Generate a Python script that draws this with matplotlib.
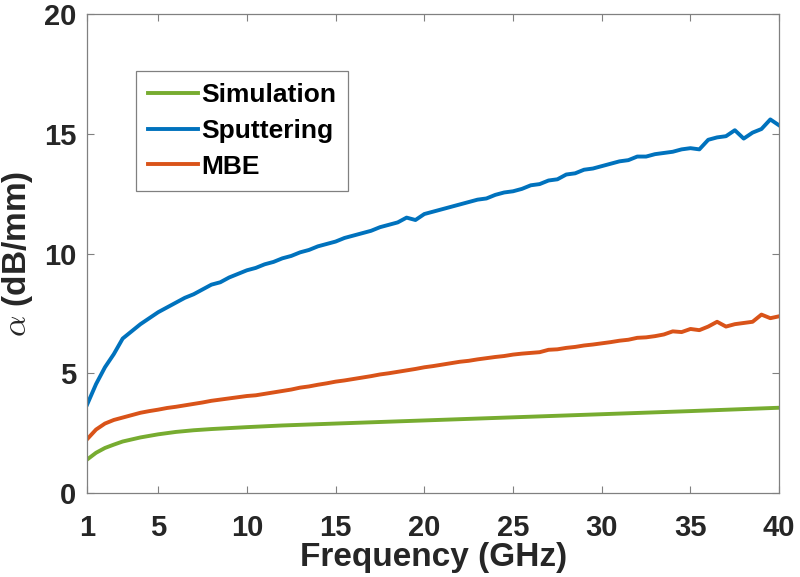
import numpy as np
import matplotlib.pyplot as plt

plt.rcParams['font.family'] = ['Liberation Sans', 'DejaVu Sans']
plt.rcParams['mathtext.fontset'] = 'cm'

# measured attenuation, 0.5 GHz steps
freq = np.arange(1.0, 40.01, 0.5)
sputtering = [3.70, 4.55, 5.25, 5.80, 6.45, 6.75, 7.05, 7.30, 7.55, 7.75,
              7.95, 8.15, 8.30, 8.50, 8.70, 8.80, 9.00, 9.15, 9.30, 9.40,
              9.55, 9.65, 9.80, 9.90, 10.05, 10.15, 10.30, 10.40, 10.50, 10.65,
              10.75, 10.85, 10.95, 11.10, 11.20, 11.30, 11.50, 11.40, 11.65, 11.75,
              11.85, 11.95, 12.05, 12.15, 12.25, 12.30, 12.45, 12.55, 12.60, 12.70,
              12.85, 12.90, 13.05, 13.10, 13.30, 13.35, 13.50, 13.55, 13.65, 13.75,
              13.85, 13.90, 14.05, 14.05, 14.15, 14.20, 14.25, 14.35, 14.40, 14.35,
              14.75, 14.85, 14.90, 15.15, 14.80, 15.05, 15.20, 15.60, 15.35]
mbe = [2.25, 2.65, 2.90, 3.05, 3.15, 3.25, 3.35, 3.42, 3.48, 3.55,
       3.60, 3.66, 3.72, 3.78, 3.85, 3.90, 3.95, 4.00, 4.05, 4.08,
       4.14, 4.20, 4.26, 4.32, 4.40, 4.45, 4.52, 4.58, 4.65, 4.70,
       4.76, 4.82, 4.88, 4.95, 5.00, 5.06, 5.12, 5.18, 5.25, 5.30,
       5.36, 5.42, 5.48, 5.52, 5.58, 5.63, 5.68, 5.72, 5.78, 5.82,
       5.85, 5.88, 5.98, 6.00, 6.06, 6.10, 6.16, 6.20, 6.25, 6.30,
       6.36, 6.40, 6.48, 6.50, 6.55, 6.62, 6.75, 6.72, 6.85, 6.80,
       6.95, 7.15, 6.95, 7.05, 7.10, 7.15, 7.45, 7.30, 7.38]

# simulated curve (smooth)
sim_freq = [1, 1.5, 2, 2.5, 3, 4, 5, 6, 7, 8, 10, 12, 15, 20, 25, 30, 35, 40]
simulation = [1.40, 1.68, 1.88, 2.02, 2.15, 2.32, 2.45, 2.55, 2.62, 2.67,
              2.75, 2.82, 2.90, 3.03, 3.16, 3.29, 3.42, 3.56]

xticks = [1, 5, 10, 15, 20, 25, 30, 35, 40]
yticks = [0, 5, 10, 15, 20]

fig = plt.figure(figsize=(8, 5.77), dpi=100)
ax = fig.add_axes([0.109, 0.1456, 0.865, 0.830])

ax.plot(sim_freq, simulation, color='#77AC30', lw=2.8, label='Simulation')
ax.plot(freq, sputtering, color='#0072BD', lw=2.8, label='Sputtering')
ax.plot(freq, mbe, color='#D95319', lw=2.8, label='MBE')

ax.set_xlim(1, 40)
ax.set_ylim(0, 20)
ax.set_xticks(xticks)
ax.set_yticks(yticks)
ax.tick_params(direction='in', top=True, right=True, length=5, width=0.8,
               color='#808080', labelcolor='#262626', labelsize=21)
ax.tick_params(axis='x', pad=15)
ax.tick_params(axis='y', pad=8)
for lab in ax.get_xticklabels() + ax.get_yticklabels():
    lab.set_fontweight('bold')
for s in ax.spines.values():
    s.set_color('#808080')
    s.set_linewidth(0.9)

ax.set_xlabel('Frequency (GHz)', fontsize=24, fontweight='bold', color='#262626', labelpad=0)
ax.set_ylabel(r'$\alpha$ (dB/mm)', fontsize=24, fontweight='bold', color='#262626', labelpad=6)

leg = ax.legend(loc='upper left', bbox_to_anchor=(0.071, 0.881),
                prop={'weight': 'bold', 'size': 19}, fancybox=False, framealpha=1,
                edgecolor='#808080', handlelength=1.9, handletextpad=0.1,
                borderpad=0.45, labelspacing=0.45, borderaxespad=0)
leg.get_frame().set_linewidth(0.9)

fig.savefig('out.png', dpi=100)
